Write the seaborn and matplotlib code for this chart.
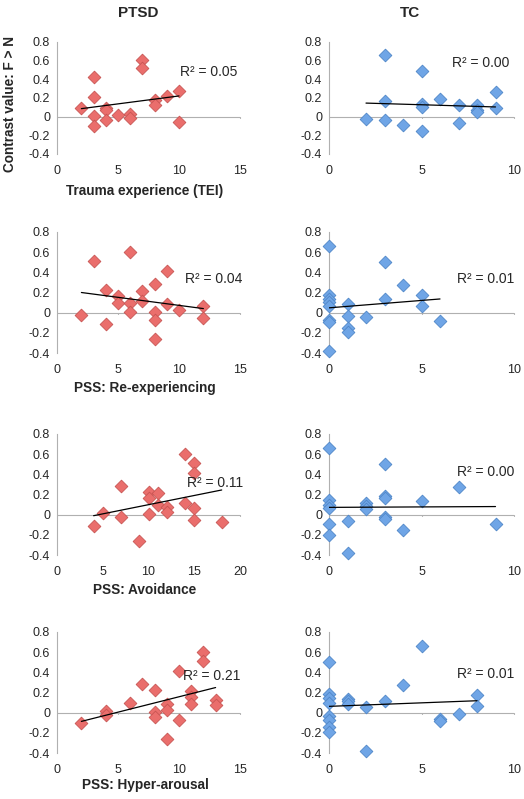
import seaborn as sns
import matplotlib.pyplot as plt
import pandas as pd

sns.set_style("white")
plt.rcParams['font.family'] = ['Liberation Sans', 'DejaVu Sans']

# PTSD group
ptsd_tei_x = [2, 3, 3, 3, 3, 4, 4, 4, 5, 6, 6, 7, 7, 8, 8, 9, 10, 10]
ptsd_tei_y = [0.09, 0.42, 0.21, 0.01, -0.10, 0.09, 0.07, -0.04, 0.02, 0.03, -0.01, 0.61, 0.52, 0.18, 0.13, 0.22, 0.28, -0.06]

ptsd_re_x = [2, 3, 4, 4, 5, 5, 6, 6, 6, 7, 7, 8, 8, 8, 8, 9, 9, 10, 12, 12]
ptsd_re_y = [-0.02, 0.51, 0.22, -0.11, 0.17, 0.10, 0.60, 0.10, 0.01, 0.21, 0.12, 0.28, 0.01, -0.07, -0.26, 0.41, 0.09, 0.03, 0.07, -0.05]

ptsd_av_x = [4, 5, 7, 7, 9, 10, 10, 10, 11, 11, 12, 12, 14, 14, 15, 15, 15, 15, 18]
ptsd_av_y = [-0.11, 0.02, 0.28, -0.02, -0.26, 0.22, 0.17, 0.01, 0.21, 0.10, 0.08, 0.03, 0.60, 0.12, 0.51, 0.41, 0.07, -0.05, -0.07]

ptsd_hy_x = [2, 4, 4, 6, 7, 8, 8, 8, 9, 9, 9, 10, 10, 11, 11, 11, 12, 12, 13, 13]
ptsd_hy_y = [-0.10, 0.02, -0.02, 0.10, 0.28, 0.22, 0.01, -0.04, 0.09, 0.03, -0.26, 0.41, -0.07, 0.21, 0.16, 0.09, 0.60, 0.51, 0.13, 0.08]

# TC group
tc_tei_x = [2, 3, 3, 3, 4, 5, 5, 5, 5, 6, 7, 7, 8, 8, 8, 9, 9]
tc_tei_y = [-0.02, 0.66, 0.17, -0.04, -0.09, 0.49, 0.14, 0.10, -0.15, 0.19, 0.13, -0.07, 0.12, 0.07, 0.05, 0.26, 0.09]

tc_re_x = [0, 0, 0, 0, 0, 0, 0, 0, 1, 1, 1, 1, 2, 3, 3, 4, 5, 5, 6]
tc_re_y = [0.66, 0.18, 0.14, 0.11, 0.07, -0.07, -0.09, -0.38, 0.09, -0.03, -0.15, -0.19, -0.04, 0.50, 0.14, 0.27, 0.18, 0.07, -0.08]

tc_av_x = [0, 0, 0, 0, 0, 0, 1, 1, 2, 2, 2, 3, 3, 3, 3, 3, 4, 5, 7, 9]
tc_av_y = [0.66, 0.15, 0.10, 0.07, -0.09, -0.20, -0.06, -0.38, 0.12, 0.09, 0.06, 0.50, 0.19, 0.17, -0.02, -0.04, -0.15, 0.14, 0.27, -0.09]

tc_hy_x = [0, 0, 0, 0, 0, 0, 0, 0, 1, 1, 1, 2, 2, 3, 4, 5, 6, 6, 7, 8, 8]
tc_hy_y = [0.50, 0.19, 0.15, 0.10, -0.03, -0.07, -0.14, -0.19, 0.14, 0.12, 0.09, 0.06, -0.38, 0.12, 0.27, 0.66, -0.06, -0.08, -0.01, 0.18, 0.07]

r2_ptsd = ["R² = 0.05", "R² = 0.04", "R² = 0.11", "R² = 0.21"]
r2_tc = ["R² = 0.00", "R² = 0.01", "R² = 0.00", "R² = 0.01"]
xlabels = ["Trauma experience (TEI)", "PSS: Re-experiencing", "PSS: Avoidance", "PSS: Hyper-arousal"]
ptsd_xmax = [15, 15, 20, 15]
ptsd_xticks = [[0, 5, 10, 15], [0, 5, 10, 15], [0, 5, 10, 15, 20], [0, 5, 10, 15]]
yticks = [-0.4, -0.2, 0, 0.2, 0.4, 0.6, 0.8]
ytick_labels = ["-0.4", "-0.2", "0", "0.2", "0.4", "0.6", "0.8"]

ptsd_data = [(ptsd_tei_x, ptsd_tei_y), (ptsd_re_x, ptsd_re_y), (ptsd_av_x, ptsd_av_y), (ptsd_hy_x, ptsd_hy_y)]
tc_data = [(tc_tei_x, tc_tei_y), (tc_re_x, tc_re_y), (tc_av_x, tc_av_y), (tc_hy_x, tc_hy_y)]

# where the R² text sits (data coords)
r2_pos_ptsd = [(10.1, 0.48), (10.5, 0.33), (14.2, 0.31), (10.3, 0.36)]
r2_pos_tc = [(6.65, 0.58), (6.9, 0.33), (6.9, 0.42), (6.9, 0.38)]

W, H = 524, 799
fig = plt.figure(figsize=(W / 100, H / 100), dpi=100)

rows_px = [(42, 154), (232, 353), (434, 555), (632, 753)]
xlabel_px = [191, 388, 590, 785]

red_fill, red_edge = "#EA6E6C", "#C85553"
blue_fill, blue_edge = "#6FA5E6", "#4F86C8"


def style_axes(ax, xmax, xticks):
    ax.set_xlim(0, xmax)
    ax.set_ylim(-0.4, 0.8)
    ax.set_yticks(yticks)
    ax.set_yticklabels(ytick_labels)
    ax.set_xticks(xticks)
    ax.set_xticklabels([str(t) for t in xticks])
    for s in ["top", "right", "bottom"]:
        ax.spines[s].set_visible(False)
    ax.spines["left"].set_color("#b0b0b0")
    ax.spines["left"].set_linewidth(0.8)
    ax.axhline(0, color="#b0b0b0", lw=0.8, zorder=1)
    # small tick marks along the zero line
    for t in xticks[1:]:
        ax.plot([t, t], [0, -0.012], color="#b0b0b0", lw=0.8, zorder=1, clip_on=False)
    ax.tick_params(axis="y", length=3, width=0.8, color="#b0b0b0", labelsize=9, pad=2)
    ax.tick_params(axis="x", length=0, labelsize=9, pad=8)
    ax.set_xlabel("")
    ax.set_ylabel("")


for i in range(4):
    top, bot = rows_px[i]
    b = 1 - bot / H
    h = (bot - top) / H
    # PTSD
    ax = fig.add_axes([57 / W, b, 183 / W, h])
    x, y = ptsd_data[i]
    df = pd.DataFrame({"x": x, "y": y})
    sns.scatterplot(data=df, x="x", y="y", marker="D", s=42, color=red_fill,
                    edgecolor=red_edge, linewidth=0.6, ax=ax, zorder=3, clip_on=False)
    sns.regplot(data=df, x="x", y="y", scatter=False, ci=None, truncate=True,
                line_kws={"color": "black", "lw": 0.9, "zorder": 4}, ax=ax)
    style_axes(ax, ptsd_xmax[i], ptsd_xticks[i])
    ax.text(*r2_pos_ptsd[i], r2_ptsd[i], fontsize=10, va="center", ha="left", zorder=5)
    fig.text(145 / W, 1 - xlabel_px[i] / H, xlabels[i], fontsize=9.8, fontweight="bold",
             ha="center", va="center")

    # TC
    ax = fig.add_axes([329 / W, b, 185 / W, h])
    x, y = tc_data[i]
    df = pd.DataFrame({"x": x, "y": y})
    sns.scatterplot(data=df, x="x", y="y", marker="D", s=42, color=blue_fill,
                    edgecolor=blue_edge, linewidth=0.6, ax=ax, zorder=3, clip_on=False)
    sns.regplot(data=df, x="x", y="y", scatter=False, ci=None, truncate=True,
                line_kws={"color": "black", "lw": 0.9, "zorder": 4}, ax=ax)
    style_axes(ax, 10, [0, 5, 10])
    ax.text(*r2_pos_tc[i], r2_tc[i], fontsize=10, va="center", ha="left", zorder=5)

fig.text(138 / W, 1 - 13 / H, "PTSD", fontsize=11, fontweight="bold", ha="center", va="center")
fig.text(410 / W, 1 - 13 / H, "TC", fontsize=11, fontweight="bold", ha="center", va="center")
fig.text(10 / W, 1 - 104 / H, "Contrast value: F > N", fontsize=9.8, fontweight="bold",
         rotation=90, ha="center", va="center")

fig.savefig("out.png", dpi=100)
